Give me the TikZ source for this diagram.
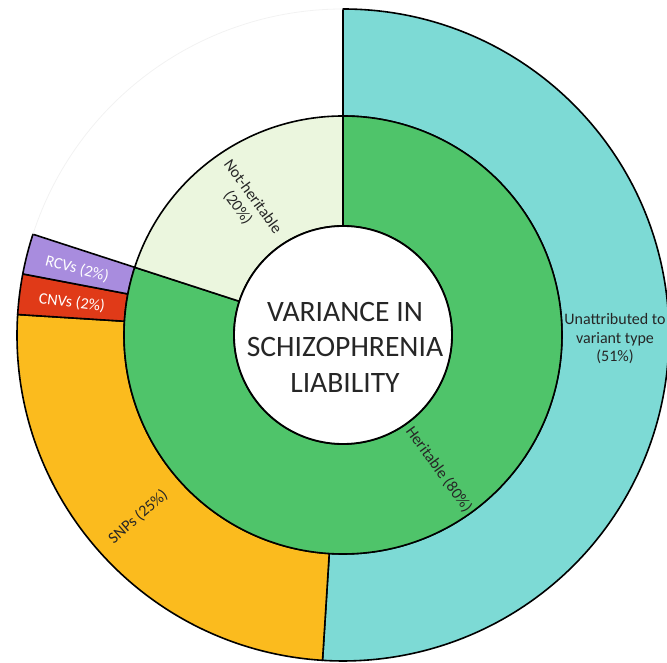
\documentclass[tikz,border=0pt]{standalone}
\usepackage{fontspec}
\setmainfont{Carlito}

\definecolor{unattrcol}{RGB}{125,218,213}
\definecolor{snpcol}{RGB}{251,187,30}
\definecolor{cnvcol}{RGB}{224,58,24}
\definecolor{rcvcol}{RGB}{168,140,222}
\definecolor{heritcol}{RGB}{79,196,106}
\definecolor{nonheritcol}{RGB}{235,246,222}

\begin{document}
\begin{tikzpicture}
        \tikzstyle{every node}=[text=black!85,align=center,font=\fontsize{16}{18.5}\selectfont]
        \tikzstyle{slice}=[draw=black,line width=1.6pt,line join=round]
        \useasboundingbox (-343pt,-328pt) rectangle (324pt,335pt);
        \clip (-343pt,-328pt) rectangle (324pt,335pt);

        % outer ring: unattributed
        \filldraw[slice,fill=unattrcol] (90:219pt) -- (90:326pt) arc[start angle=90,end angle=-93.6,radius=326pt] -- (-93.6:219pt) arc[start angle=-93.6,end angle=90,radius=219pt] -- cycle;
        \node (unattributed) at (272pt,-4pt) {Unattributed to\\variant type\\(51\%)};

        % outer ring: snps
        \filldraw[slice,fill=snpcol] (-93.6:219pt) -- (-93.6:326pt) arc[start angle=-93.6,end angle=-183.6,radius=326pt] -- (-183.6:219pt) arc[start angle=-183.6,end angle=-93.6,radius=219pt] -- cycle;
        \node[rotate=41.4] (snps) at (221.6:274pt) {SNPs (25\%)};

        % outer ring: cnvs
        \filldraw[slice,fill=cnvcol] (176.4:219pt) -- (176.4:326pt) arc[start angle=176.4,end angle=169.2,radius=326pt] -- (169.2:219pt) arc[start angle=169.2,end angle=176.4,radius=219pt] -- cycle;
        \node[rotate=-7.2,text=white] (cnvs) at (173.2:273pt) {CNVs (2\%)};

        % outer ring: rcvs
        \filldraw[slice,fill=rcvcol] (169.2:219pt) -- (169.2:326pt) arc[start angle=169.2,end angle=162,radius=326pt] -- (162:219pt) arc[start angle=162,end angle=169.2,radius=219pt] -- cycle;
        \node[rotate=-14.4,text=white] (rcvs) at (166:274pt) {RCVs (2\%)};

        % outer ring: nothing there, faint edge only
        \draw[black!5,line width=0.8pt] (162:326pt) arc[start angle=162,end angle=90,radius=326pt];

        % inner ring: heritable
        \filldraw[slice,fill=heritcol] (90:109pt) -- (90:219pt) arc[start angle=90,end angle=-198,radius=219pt] -- (-198:109pt) arc[start angle=-198,end angle=90,radius=109pt] -- cycle;
        \node[rotate=-54] (heritable) at (-54.5:165pt) {Heritable (80\%)};

        % inner ring: not heritable
        \filldraw[slice,fill=nonheritcol] (162:109pt) -- (162:219pt) arc[start angle=162,end angle=90,radius=219pt] -- (90:109pt) arc[start angle=90,end angle=162,radius=109pt] -- cycle;
        \node[rotate=-54] (notheritable) at (126.4:165pt) {Not-heritable\\(20\%)};

        % centre
        \node[draw,circle,fill=white,line width=1.8pt,minimum size=218pt,inner sep=0pt] (core) at (0,0) {};
        \node[font=\fontsize{29.6}{35.5}\selectfont] (liability) at ([xshift=2pt,yshift=-12pt]core.center) {VARIANCE IN\\SCHIZOPHRENIA\\LIABILITY};

    \end{tikzpicture}
\end{document}
